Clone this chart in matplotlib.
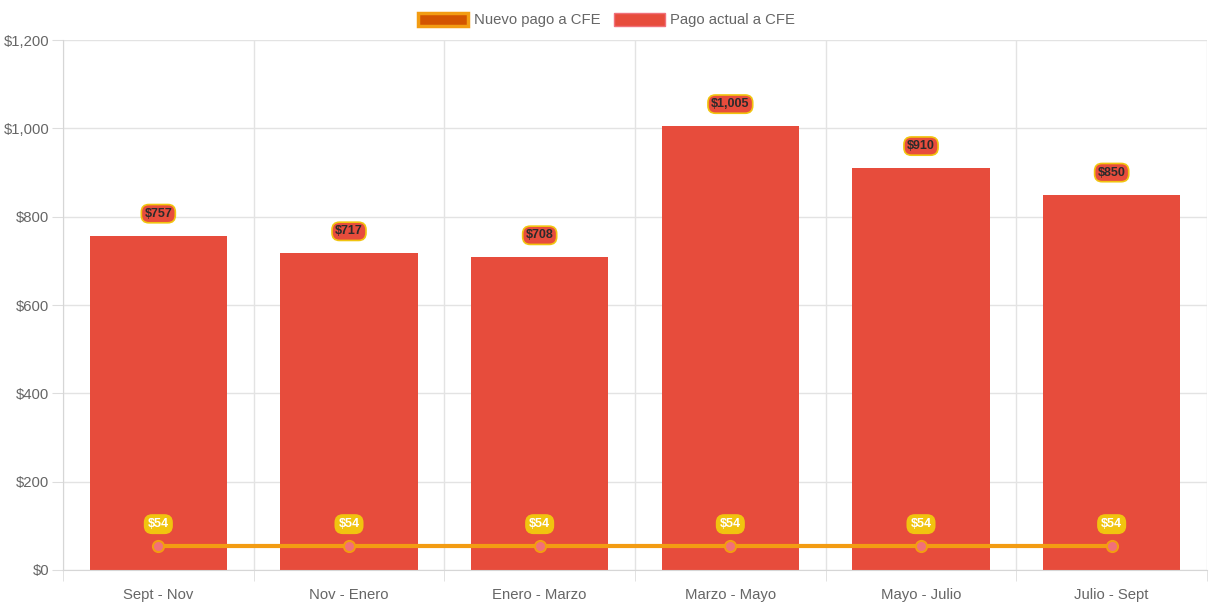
import matplotlib
matplotlib.use("Agg")
import matplotlib.pyplot as plt
import numpy as np

categories = ["Sept - Nov", "Nov - Enero", "Enero - Marzo", "Marzo - Mayo", "Mayo - Julio", "Julio - Sept"]
pago_actual = [757, 717, 708, 1005, 910, 850]
nuevo_pago = [54, 54, 54, 54, 54, 54]
yticks = [0, 200, 400, 600, 800, 1000, 1200]

plt.rcParams['font.family'] = ['Liberation Sans', 'DejaVu Sans']

fig = plt.figure(figsize=(12.13, 6.06), dpi=100)
ax = fig.add_axes([63/1213, 36/606, 1144/1213, 530/606])

x = np.arange(len(categories))
red = '#e74c3c'
orange = '#f39c12'

ax.bar(x, pago_actual, width=0.72, color=red, zorder=2, label='Pago actual a CFE')
ax.plot(x, nuevo_pago, color=orange, lw=3, zorder=3, marker='o', markersize=8,
        markerfacecolor='#f1707a', markeredgecolor=orange, markeredgewidth=1.5)

def money(v):
    return "${:,}".format(v)

for xi, v in zip(x, pago_actual):
    ax.annotate(money(v), (xi, v), xytext=(0, 22), textcoords='offset pixels',
                ha='center', va='center', fontsize=9, fontweight='bold', color='#2b2b2b',
                bbox=dict(boxstyle='round,pad=0.25,rounding_size=0.6', fc=red, ec='#f1c40f', lw=1.2),
                zorder=5)
for xi, v in zip(x, nuevo_pago):
    ax.annotate(money(v), (xi, v), xytext=(0, 22), textcoords='offset pixels',
                ha='center', va='center', fontsize=9, fontweight='bold', color='white',
                bbox=dict(boxstyle='round,pad=0.25,rounding_size=0.6', fc='#f1c40f', ec='#f1c40f', lw=1.2),
                zorder=5)

ax.set_xlim(-0.5, len(categories) - 0.5)
ax.set_ylim(0, 1200)
ax.set_yticks(yticks)
ax.set_yticklabels([money(v) for v in yticks])
ax.set_xticks(x)
ax.set_xticklabels(categories)
ax.set_xticks(np.arange(-0.5, len(categories)), minor=True)
ax.tick_params(axis='x', which='major', length=0, pad=13, labelsize=10.7, labelcolor='#666666')
ax.tick_params(axis='x', which='minor', length=8, color='#dddddd')
ax.tick_params(axis='y', length=8, color='#dddddd', labelsize=10.7, labelcolor='#666666', pad=2)
ax.grid(axis='y', color='#e3e3e3', lw=1, zorder=0)
ax.grid(axis='x', which='minor', color='#e3e3e3', lw=1, zorder=0)
for s in ['top', 'right']:
    ax.spines[s].set_visible(False)
for s in ['left', 'bottom']:
    ax.spines[s].set_color('#d6d6d6')

from matplotlib.patches import Patch
handles = [Patch(facecolor='#d35400', edgecolor=orange, lw=2.5, label='Nuevo pago a CFE'),
           Patch(facecolor=red, edgecolor='#f1707a', lw=1, label='Pago actual a CFE')]
leg = fig.legend(handles=handles, loc='center', bbox_to_anchor=(0.5, 1 - 20/606), ncol=2,
                 frameon=False, fontsize=10.7, handlelength=3.4, handleheight=1.0,
                 columnspacing=0.9, handletextpad=0.4)
for t in leg.get_texts():
    t.set_color('#666666')

fig.savefig('out.png', dpi=100)
